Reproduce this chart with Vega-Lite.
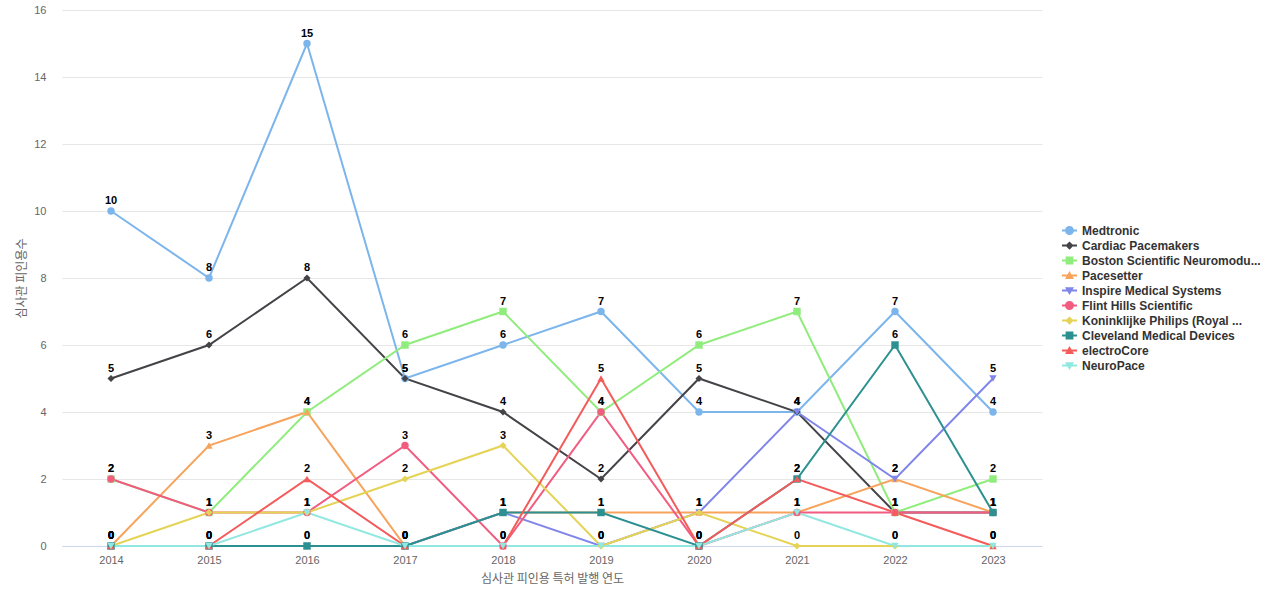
{
  "$schema": "https://vega.github.io/schema/vega-lite/v6.json",
  "autosize": {"type": "none"},
  "width": 980,
  "height": 536,
  "padding": {"left": 62, "top": 10, "right": 238, "bottom": 54},
  "background": "white",
  "config": {
    "font": "Liberation Sans",
    "view": {"stroke": null}
  },
  "data": {"values": [
    {"company": "Medtronic", "year": "2014", "value": 10},
    {"company": "Medtronic", "year": "2015", "value": 8},
    {"company": "Medtronic", "year": "2016", "value": 15},
    {"company": "Medtronic", "year": "2017", "value": 5},
    {"company": "Medtronic", "year": "2018", "value": 6},
    {"company": "Medtronic", "year": "2019", "value": 7},
    {"company": "Medtronic", "year": "2020", "value": 4},
    {"company": "Medtronic", "year": "2021", "value": 4},
    {"company": "Medtronic", "year": "2022", "value": 7},
    {"company": "Medtronic", "year": "2023", "value": 4},
    {"company": "Cardiac Pacemakers", "year": "2014", "value": 5},
    {"company": "Cardiac Pacemakers", "year": "2015", "value": 6},
    {"company": "Cardiac Pacemakers", "year": "2016", "value": 8},
    {"company": "Cardiac Pacemakers", "year": "2017", "value": 5},
    {"company": "Cardiac Pacemakers", "year": "2018", "value": 4},
    {"company": "Cardiac Pacemakers", "year": "2019", "value": 2},
    {"company": "Cardiac Pacemakers", "year": "2020", "value": 5},
    {"company": "Cardiac Pacemakers", "year": "2021", "value": 4},
    {"company": "Cardiac Pacemakers", "year": "2022", "value": 1},
    {"company": "Cardiac Pacemakers", "year": "2023", "value": 1},
    {"company": "Boston Scientific Neuromodu...", "year": "2014", "value": 2},
    {"company": "Boston Scientific Neuromodu...", "year": "2015", "value": 1},
    {"company": "Boston Scientific Neuromodu...", "year": "2016", "value": 4},
    {"company": "Boston Scientific Neuromodu...", "year": "2017", "value": 6},
    {"company": "Boston Scientific Neuromodu...", "year": "2018", "value": 7},
    {"company": "Boston Scientific Neuromodu...", "year": "2019", "value": 4},
    {"company": "Boston Scientific Neuromodu...", "year": "2020", "value": 6},
    {"company": "Boston Scientific Neuromodu...", "year": "2021", "value": 7},
    {"company": "Boston Scientific Neuromodu...", "year": "2022", "value": 1},
    {"company": "Boston Scientific Neuromodu...", "year": "2023", "value": 2},
    {"company": "Pacesetter", "year": "2014", "value": 0},
    {"company": "Pacesetter", "year": "2015", "value": 3},
    {"company": "Pacesetter", "year": "2016", "value": 4},
    {"company": "Pacesetter", "year": "2017", "value": 0},
    {"company": "Pacesetter", "year": "2018", "value": 1},
    {"company": "Pacesetter", "year": "2019", "value": 1},
    {"company": "Pacesetter", "year": "2020", "value": 1},
    {"company": "Pacesetter", "year": "2021", "value": 1},
    {"company": "Pacesetter", "year": "2022", "value": 2},
    {"company": "Pacesetter", "year": "2023", "value": 1},
    {"company": "Inspire Medical Systems", "year": "2014", "value": 0},
    {"company": "Inspire Medical Systems", "year": "2015", "value": 0},
    {"company": "Inspire Medical Systems", "year": "2016", "value": 0},
    {"company": "Inspire Medical Systems", "year": "2017", "value": 0},
    {"company": "Inspire Medical Systems", "year": "2018", "value": 1},
    {"company": "Inspire Medical Systems", "year": "2019", "value": 0},
    {"company": "Inspire Medical Systems", "year": "2020", "value": 1},
    {"company": "Inspire Medical Systems", "year": "2021", "value": 4},
    {"company": "Inspire Medical Systems", "year": "2022", "value": 2},
    {"company": "Inspire Medical Systems", "year": "2023", "value": 5},
    {"company": "Flint Hills Scientific", "year": "2014", "value": 2},
    {"company": "Flint Hills Scientific", "year": "2015", "value": 1},
    {"company": "Flint Hills Scientific", "year": "2016", "value": 1},
    {"company": "Flint Hills Scientific", "year": "2017", "value": 3},
    {"company": "Flint Hills Scientific", "year": "2018", "value": 0},
    {"company": "Flint Hills Scientific", "year": "2019", "value": 4},
    {"company": "Flint Hills Scientific", "year": "2020", "value": 0},
    {"company": "Flint Hills Scientific", "year": "2021", "value": 1},
    {"company": "Flint Hills Scientific", "year": "2022", "value": 1},
    {"company": "Flint Hills Scientific", "year": "2023", "value": 1},
    {"company": "Koninklijke Philips (Royal ...", "year": "2014", "value": 0},
    {"company": "Koninklijke Philips (Royal ...", "year": "2015", "value": 1},
    {"company": "Koninklijke Philips (Royal ...", "year": "2016", "value": 1},
    {"company": "Koninklijke Philips (Royal ...", "year": "2017", "value": 2},
    {"company": "Koninklijke Philips (Royal ...", "year": "2018", "value": 3},
    {"company": "Koninklijke Philips (Royal ...", "year": "2019", "value": 0},
    {"company": "Koninklijke Philips (Royal ...", "year": "2020", "value": 1},
    {"company": "Koninklijke Philips (Royal ...", "year": "2021", "value": 0},
    {"company": "Koninklijke Philips (Royal ...", "year": "2022", "value": 0},
    {"company": "Koninklijke Philips (Royal ...", "year": "2023", "value": 0},
    {"company": "Cleveland Medical Devices", "year": "2014", "value": 0},
    {"company": "Cleveland Medical Devices", "year": "2015", "value": 0},
    {"company": "Cleveland Medical Devices", "year": "2016", "value": 0},
    {"company": "Cleveland Medical Devices", "year": "2017", "value": 0},
    {"company": "Cleveland Medical Devices", "year": "2018", "value": 1},
    {"company": "Cleveland Medical Devices", "year": "2019", "value": 1},
    {"company": "Cleveland Medical Devices", "year": "2020", "value": 0},
    {"company": "Cleveland Medical Devices", "year": "2021", "value": 2},
    {"company": "Cleveland Medical Devices", "year": "2022", "value": 6},
    {"company": "Cleveland Medical Devices", "year": "2023", "value": 1},
    {"company": "electroCore", "year": "2014", "value": 0},
    {"company": "electroCore", "year": "2015", "value": 0},
    {"company": "electroCore", "year": "2016", "value": 2},
    {"company": "electroCore", "year": "2017", "value": 0},
    {"company": "electroCore", "year": "2018", "value": 0},
    {"company": "electroCore", "year": "2019", "value": 5},
    {"company": "electroCore", "year": "2020", "value": 0},
    {"company": "electroCore", "year": "2021", "value": 2},
    {"company": "electroCore", "year": "2022", "value": 1},
    {"company": "electroCore", "year": "2023", "value": 0},
    {"company": "NeuroPace", "year": "2014", "value": 0},
    {"company": "NeuroPace", "year": "2015", "value": 0},
    {"company": "NeuroPace", "year": "2016", "value": 1},
    {"company": "NeuroPace", "year": "2017", "value": 0},
    {"company": "NeuroPace", "year": "2018", "value": 0},
    {"company": "NeuroPace", "year": "2019", "value": 0},
    {"company": "NeuroPace", "year": "2020", "value": 0},
    {"company": "NeuroPace", "year": "2021", "value": 1},
    {"company": "NeuroPace", "year": "2022", "value": 0},
    {"company": "NeuroPace", "year": "2023", "value": 0}
  ]},
  "encoding": {
    "x": {
      "field": "year", "type": "ordinal",
      "scale": {"type": "point", "padding": 0.5},
      "axis": {
        "title": "심사관 피인용 특허 발행 연도",
        "titleFont": "Noto Sans CJK KR", "titleFontSize": 12, "titleFontWeight": "normal", "titleColor": "#666666", "titlePadding": 8,
        "labelAngle": 0, "labelFontSize": 11, "labelColor": "#666666", "labelPadding": 8,
        "domainColor": "#ccd6eb", "ticks": false, "grid": false
      }
    },
    "y": {
      "field": "value", "type": "quantitative",
      "scale": {"domain": [0, 16], "nice": false},
      "axis": {
        "title": "심사관 피인용수",
        "titleFont": "Noto Sans CJK KR", "titleFontSize": 12, "titleFontWeight": "normal", "titleColor": "#666666", "titlePadding": 5,
        "values": [0, 2, 4, 6, 8, 10, 12, 14, 16],
        "labelFontSize": 11, "labelColor": "#666666", "labelPadding": 16,
        "domain": false, "ticks": false, "gridColor": "#e6e6e6"
      }
    },
    "color": {
      "field": "company", "type": "nominal",
      "sort": ["Medtronic", "Cardiac Pacemakers", "Boston Scientific Neuromodu...", "Pacesetter", "Inspire Medical Systems", "Flint Hills Scientific", "Koninklijke Philips (Royal ...", "Cleveland Medical Devices", "electroCore", "NeuroPace"],
      "scale": {
        "domain": ["Medtronic", "Cardiac Pacemakers", "Boston Scientific Neuromodu...", "Pacesetter", "Inspire Medical Systems", "Flint Hills Scientific", "Koninklijke Philips (Royal ...", "Cleveland Medical Devices", "electroCore", "NeuroPace"],
        "range": ["#7cb5ec", "#434348", "#90ed7d", "#f7a35c", "#8085e9", "#f15c80", "#e4d354", "#2b908f", "#f45b5b", "#91e8e1"]
      },
      "legend": {
        "title": null, "orient": "none", "legendX": 1000, "legendY": 213,
        "labelFontSize": 12, "labelFontWeight": "bold", "labelColor": "#333333",
        "labelLimit": 300, "labelOffset": 5, "rowPadding": 1,
        "symbolSize": 225, "symbolOpacity": 1, "symbolStrokeWidth": 0
      }
    }
  },
  "layer": [
    {
      "mark": {"type": "line", "strokeWidth": 2},
      "encoding": {}
    },
    {
      "transform": [{"filter": {"field": "company", "equal": "Medtronic"}}],
      "mark": {"type": "point", "filled": true, "opacity": 1, "size": 55, "shape": "circle"},
      "encoding": {}
    },
    {
      "transform": [{"filter": {"field": "company", "equal": "Cardiac Pacemakers"}}],
      "mark": {"type": "point", "filled": true, "opacity": 1, "size": 50, "shape": "diamond"},
      "encoding": {}
    },
    {
      "transform": [{"filter": {"field": "company", "equal": "Boston Scientific Neuromodu..."}}],
      "mark": {"type": "point", "filled": true, "opacity": 1, "size": 55, "shape": "square"},
      "encoding": {}
    },
    {
      "transform": [{"filter": {"field": "company", "equal": "Pacesetter"}}],
      "mark": {"type": "point", "filled": true, "opacity": 1, "size": 55, "shape": "triangle-up"},
      "encoding": {}
    },
    {
      "transform": [{"filter": {"field": "company", "equal": "Inspire Medical Systems"}}],
      "mark": {"type": "point", "filled": true, "opacity": 1, "size": 55, "shape": "triangle-down"},
      "encoding": {}
    },
    {
      "transform": [{"filter": {"field": "company", "equal": "Flint Hills Scientific"}}],
      "mark": {"type": "point", "filled": true, "opacity": 1, "size": 55, "shape": "circle"},
      "encoding": {}
    },
    {
      "transform": [{"filter": {"field": "company", "equal": "Koninklijke Philips (Royal ..."}}],
      "mark": {"type": "point", "filled": true, "opacity": 1, "size": 50, "shape": "diamond"},
      "encoding": {}
    },
    {
      "transform": [{"filter": {"field": "company", "equal": "Cleveland Medical Devices"}}],
      "mark": {"type": "point", "filled": true, "opacity": 1, "size": 55, "shape": "square"},
      "encoding": {}
    },
    {
      "transform": [{"filter": {"field": "company", "equal": "electroCore"}}],
      "mark": {"type": "point", "filled": true, "opacity": 1, "size": 55, "shape": "triangle-up"},
      "encoding": {}
    },
    {
      "transform": [{"filter": {"field": "company", "equal": "NeuroPace"}}],
      "mark": {"type": "point", "filled": true, "opacity": 1, "size": 55, "shape": "triangle-down"},
      "encoding": {}
    },
    {
      "mark": {"type": "text", "fontWeight": "bold", "fontSize": 11, "dy": -10, "color": "#000000"},
      "encoding": {
        "text": {"field": "value", "type": "quantitative"},
        "color": {"value": "#000000"}
      }
    },
    {
      "mark": {"type": "point", "filled": true, "opacity": 0, "size": 0},
      "encoding": {
        "shape": {
          "field": "company", "type": "nominal",
          "scale": {
            "domain": ["Medtronic", "Cardiac Pacemakers", "Boston Scientific Neuromodu...", "Pacesetter", "Inspire Medical Systems", "Flint Hills Scientific", "Koninklijke Philips (Royal ...", "Cleveland Medical Devices", "electroCore", "NeuroPace"],
            "range": [
              "M-1,-0.13L1,-0.13L1,0.13L-1,0.13ZM-0.6,0A0.6,0.6 0 1,1 0.6,0A0.6,0.6 0 1,1 -0.6,0Z",
              "M-1,-0.13L1,-0.13L1,0.13L-1,0.13ZM0,-0.55L0.55,0L0,0.55L-0.55,0Z",
              "M-1,-0.13L1,-0.13L1,0.13L-1,0.13ZM-0.52,-0.52L0.52,-0.52L0.52,0.52L-0.52,0.52Z",
              "M-1,-0.13L1,-0.13L1,0.13L-1,0.13ZM0,-0.6L0.6,0.45L-0.6,0.45Z",
              "M-1,-0.13L1,-0.13L1,0.13L-1,0.13ZM-0.6,-0.45L0.6,-0.45L0,0.6Z",
              "M-1,-0.13L1,-0.13L1,0.13L-1,0.13ZM-0.6,0A0.6,0.6 0 1,1 0.6,0A0.6,0.6 0 1,1 -0.6,0Z",
              "M-1,-0.13L1,-0.13L1,0.13L-1,0.13ZM0,-0.55L0.55,0L0,0.55L-0.55,0Z",
              "M-1,-0.13L1,-0.13L1,0.13L-1,0.13ZM-0.52,-0.52L0.52,-0.52L0.52,0.52L-0.52,0.52Z",
              "M-1,-0.13L1,-0.13L1,0.13L-1,0.13ZM0,-0.6L0.6,0.45L-0.6,0.45Z",
              "M-1,-0.13L1,-0.13L1,0.13L-1,0.13ZM-0.6,-0.45L0.6,-0.45L0,0.6Z"
            ]
          },
          "legend": null
        }
      }
    }
  ]
}
